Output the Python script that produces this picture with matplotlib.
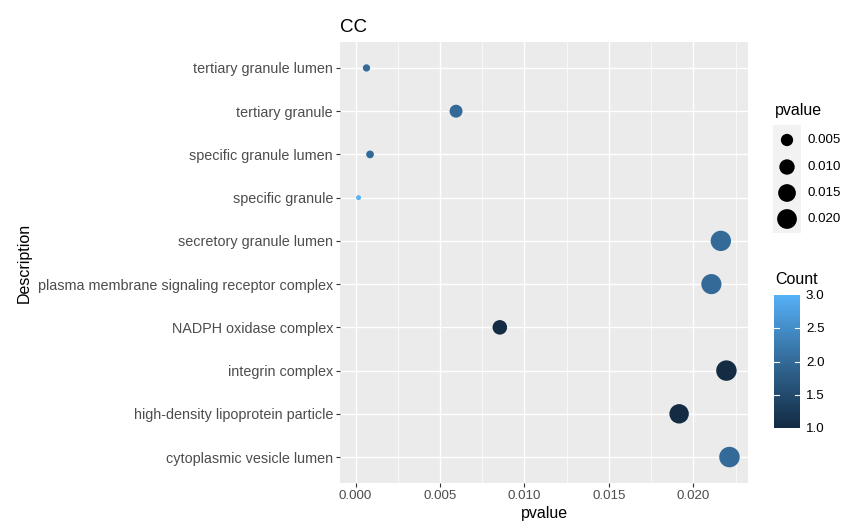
import numpy as np
import matplotlib
matplotlib.use("Agg")
import matplotlib.pyplot as plt
from matplotlib.colors import LinearSegmentedColormap, Normalize
from matplotlib.ticker import MultipleLocator

plt.rcParams['font.family'] = ['Liberation Sans', 'DejaVu Sans']

# ---- data (top to bottom) ----
descriptions = [
    "tertiary granule lumen",
    "tertiary granule",
    "specific granule lumen",
    "specific granule",
    "secretory granule lumen",
    "plasma membrane signaling receptor complex",
    "NADPH oxidase complex",
    "integrin complex",
    "high-density lipoprotein particle",
    "cytoplasmic vesicle lumen",
]
pvalues = [0.00065, 0.00595, 0.00086, 0.00018, 0.02162, 0.02106, 0.00854, 0.02195, 0.01915, 0.02213]
counts = [2, 2, 2, 3, 2, 2, 1, 1, 1, 2]
size_breaks = [0.005, 0.010, 0.015, 0.020]
count_ticks = [1.0, 1.5, 2.0, 2.5, 3.0]
x_ticks = [0.000, 0.005, 0.010, 0.015, 0.020]

W, H = 848, 529
fig = plt.figure(figsize=(W / 100, H / 100), dpi=100)

def px_axes(x0, y0, x1, y1):
    return fig.add_axes([x0 / W, 1 - y1 / H, (x1 - x0) / W, (y1 - y0) / H])

cmap = LinearSegmentedColormap.from_list("gg", ["#132B43", "#336A98", "#56B1F7"])
norm = Normalize(1, 3)

pv = np.array(pvalues)
pmin, pmax = pv.min(), pv.max()

def sizes(p):
    p = np.asarray(p, dtype=float)
    d = 5 + 15.5 * np.sqrt(np.clip((p - pmin) / (pmax - pmin), 0, 1))
    return (d * 0.72) ** 2

ax = px_axes(340, 42, 748, 483)
ax.set_facecolor("#EBEBEB")
n = len(descriptions)
ypos = np.arange(n)[::-1]
ax.scatter(pv, ypos, s=sizes(pv), c=counts, cmap=cmap, norm=norm, linewidths=0, zorder=3)
ax.set_ylim(-0.6, n - 1 + 0.6)
rng = pmax - pmin
ax.set_xlim(pmin - 0.05 * rng, pmax + 0.05 * rng)
ax.set_yticks(ypos)
ax.set_yticklabels(descriptions)
ax.set_xticks(x_ticks)
ax.set_xticklabels([f"{t:.3f}" for t in x_ticks])
ax.xaxis.set_minor_locator(MultipleLocator(0.0025))
ax.grid(True, which="major", color="white", linewidth=1.0, zorder=0)
ax.grid(True, which="minor", axis="x", color="white", linewidth=0.5, zorder=0)
ax.set_axisbelow(True)
for sp in ax.spines.values():
    sp.set_visible(False)
ax.tick_params(axis="both", which="major", length=3, width=0.8, color="#333333",
               labelcolor="#4D4D4D", pad=2)
ax.tick_params(axis="y", labelsize=10.4)
ax.tick_params(axis="x", labelsize=9.6)
ax.tick_params(axis="x", which="minor", length=0)
ax.set_xlabel("pvalue", fontsize=11.5, labelpad=3)
ax.set_ylabel("Description", fontsize=11.5, labelpad=4)
ax.set_title("CC", fontsize=13.5, loc="left", pad=7)

# ---- size legend ----
fig.text(775 / W, 1 - 111 / H, "pvalue", fontsize=11.5, va="center", ha="left")
lax = px_axes(773, 125, 801, 233)
lax.set_facecolor("#F2F2F2")
lax.set_xlim(0, 1)
lax.set_ylim(233, 125)
ly = [140, 167, 193, 219]
lax.scatter([0.5] * 4, ly, s=sizes(size_breaks), c="black", linewidths=0)
for sp in lax.spines.values():
    sp.set_visible(False)
lax.set_xticks([]); lax.set_yticks([])
for yy, b in zip(ly, size_breaks):
    fig.text(807 / W, 1 - yy / H, f"{b:.3f}", fontsize=9.6, va="center", ha="left", color="black")

# ---- colorbar ----
fig.text(775 / W, 1 - 279 / H, "Count", fontsize=11.5, va="center", ha="left")
cax = px_axes(774, 295, 800, 428)
grad = np.linspace(1, 3, 256).reshape(-1, 1)
cax.imshow(grad, aspect="auto", cmap=cmap, norm=norm, origin="lower", extent=[0, 1, 1, 3])
cax.set_xlim(0, 1); cax.set_ylim(1, 3)
for sp in cax.spines.values():
    sp.set_visible(False)
cax.set_xticks([])
cax.set_yticks([])
for t in count_ticks:
    if 1 < t < 3:
        cax.plot([0, 0.2], [t, t], color="white", lw=0.8)
        cax.plot([0.8, 1], [t, t], color="white", lw=0.8)
    fig.text(806 / W, 1 - (429 - (t - 1) / 2 * 133) / H, f"{t:.1f}", fontsize=9.6,
             va="center", ha="left", color="black")

fig.savefig("out.png", dpi=100)
